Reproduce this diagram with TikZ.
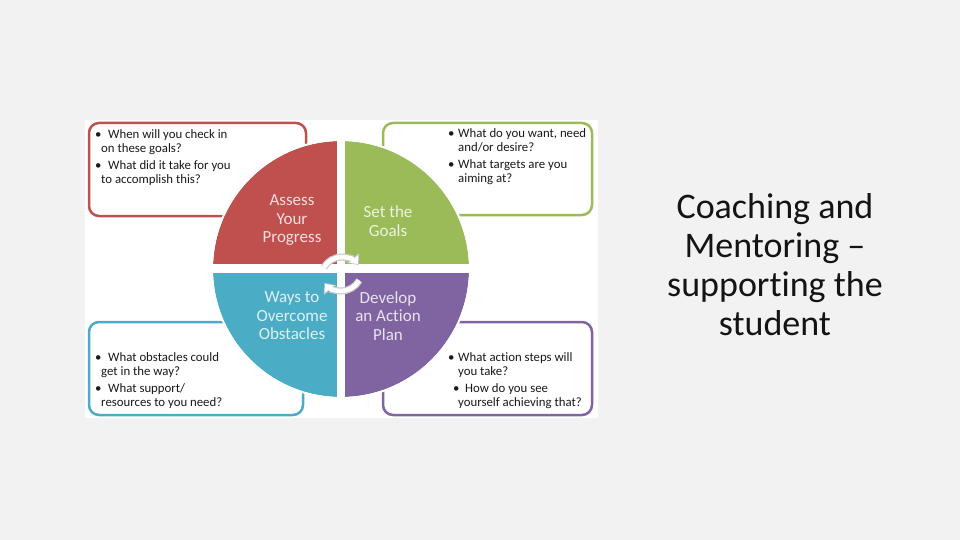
\documentclass[tikz,border=0pt]{standalone}
\usepackage{fontspec}
\setmainfont{Carlito}[Ligatures={TeX,NoCommon}]
\usetikzlibrary{arrows.meta}
\definecolor{bgslide}{HTML}{F2F2F2}
\definecolor{redq}{HTML}{C0504D}
\definecolor{greenq}{HTML}{9BBB59}
\definecolor{blueq}{HTML}{4BACC6}
\definecolor{purpleq}{HTML}{8064A2}
\newcommand{\bul}[1][10pt]{\makebox[#1][l]{\textbullet}}

\begin{document}
\begin{tikzpicture}[x=1pt, y=-1pt,
  qbox/.style={rounded corners=10pt, line width=2.5pt, fill=white},
  qtext/.style={anchor=north west, inner sep=0pt, align=left, text=black!90, font=\fontsize{12.8}{14}\selectfont},
  qlabel/.style={align=center, inner sep=0pt, font=\fontsize{17}{18.5}\selectfont},
  cycedge/.style={line width=7pt, draw=gray!40, -{Triangle[length=9pt, width=15pt]}},
  cycfill/.style={line width=4.5pt, draw=white, shorten >=1.3pt, -{Triangle[length=6.5pt, width=11pt]}}]
\fill [bgslide] (0,0) rectangle (960,540);
\useasboundingbox (0,0) rectangle (960,540);
\fill [white] (85,120) rectangle (598,418);

% question boxes
\draw [qbox, draw=redq] (89,123) rectangle (306,216);
\draw [qbox, draw=greenq] (383,123) rectangle (592,215);
\draw [qbox, draw=blueq] (89,322) rectangle (303,415);
\draw [qbox, draw=purpleq] (383,322) rectangle (592,415);

% circle
\coordinate (C) at (341,269);
\fill [greenq] (C) -- ++(0:128) arc [start angle=0, end angle=-90, radius=128] -- cycle;
\fill [redq] (C) -- ++(-90:128) arc [start angle=-90, end angle=-180, radius=128] -- cycle;
\fill [blueq] (C) -- ++(180:128) arc [start angle=180, end angle=90, radius=128] -- cycle;
\fill [purpleq] (C) -- ++(90:128) arc [start angle=90, end angle=0, radius=128] -- cycle;
\draw [white, line width=2pt] (C) circle [radius=129];
\draw [white, line width=8pt] (341,139) -- (341,399);
\draw [white, line width=9pt] (211,268.5) -- (471,268.5);

% cycle arrows
\draw [cycedge] (342,278) ++(-150:21) arc [start angle=-150, end angle=-38, radius=21];
\draw [cycfill] (342,278) ++(-150:21) arc [start angle=-150, end angle=-38, radius=21];
\draw [cycedge] (341,270) ++(30:21) arc [start angle=30, end angle=142, radius=21];
\draw [cycfill] (341,270) ++(30:21) arc [start angle=30, end angle=142, radius=21];

% quadrant labels
\node [qlabel, text=white!82!redq] (assess) at (292,220.5) {Assess\\Your\\Progress};
\node [qlabel, text=white!82!greenq] (goals) at (388,221) {Set the\\Goals};
\node [qlabel, text=white!82!blueq] (ways) at (292,316) {Ways to\\Overcome\\Obstacles};
\node [qlabel, text=white!82!purpleq] (plan) at (388,316) {Develop\\an Action\\Plan};

% box texts
\node [qtext] (checkin) at (95,129) {\bul[13pt]When will you check in\\\hspace*{6pt}on these goals?\\[3.5pt]\bul[13pt]What did it take for you\\\hspace*{6pt}to accomplish this?};
\node [qtext] (want) at (448,128) {\bul What do you want, need\\\hspace*{10pt}and/or desire?\\[3.5pt]\bul What targets are you\\\hspace*{10pt}aiming at?};
\node [qtext] (obstacles) at (95,352) {\bul[13pt]What obstacles could\\\hspace*{6pt}get in the way?\\[3.5pt]\bul[13pt]What support/\\\hspace*{6pt}resources to you need?};
\node [qtext] (steps) at (448,352) {\bul What action steps will\\\hspace*{10pt}you take?\\[3.5pt]\hspace*{5pt}\bul[12pt]How do you see\\\hspace*{10pt}yourself achieving that?};

% title
\node [align=center, inner sep=0pt, text=black!92, font=\fontsize{36}{39}\selectfont] (title) at (775,264.5) {Coaching and\\Mentoring –\\supporting the\\student};
\end{tikzpicture}
\end{document}
